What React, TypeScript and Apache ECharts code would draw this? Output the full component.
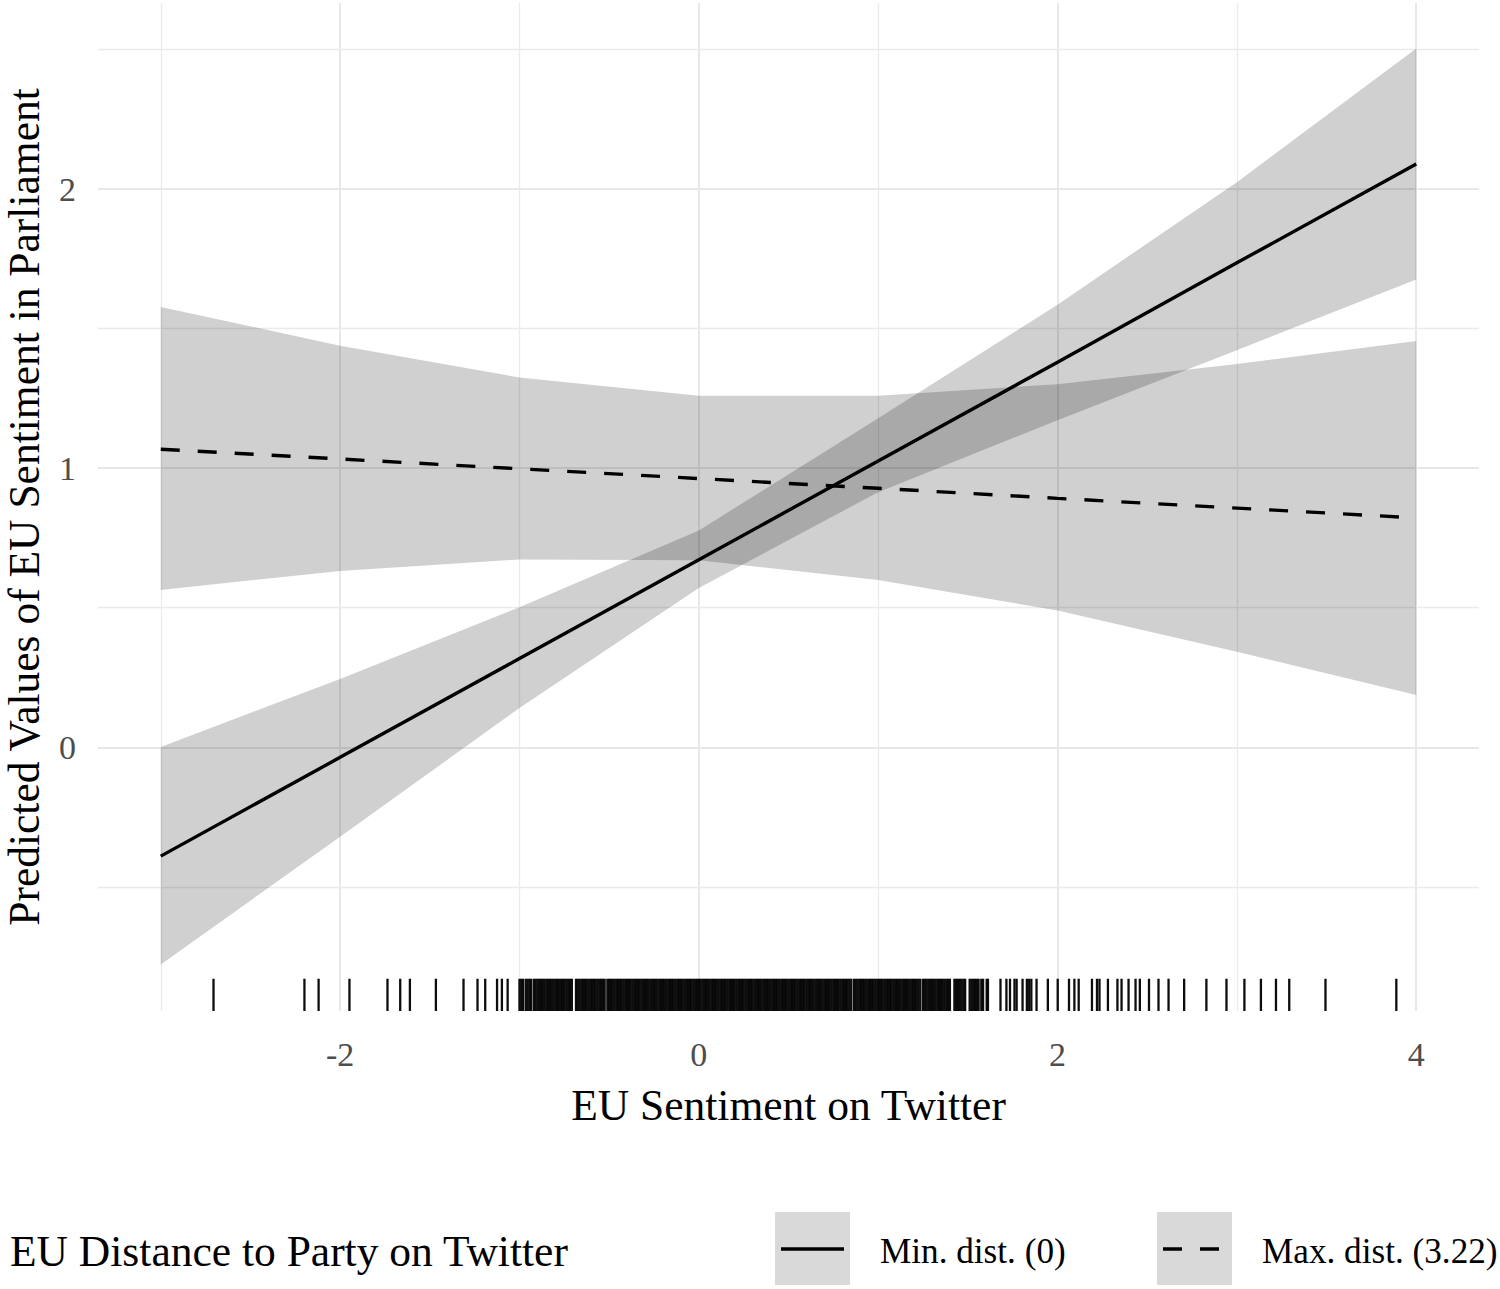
import React, { useEffect, useRef } from "react";
import * as echarts from "echarts";

// Predicted values evaluated at these x points
const X_POINTS = [-3, -2, -1, 0, 1, 2, 3, 4];
// Min. dist. (0)
const MIN_FIT = [-0.39, -0.036, 0.318, 0.672, 1.026, 1.38, 1.736, 2.09];
const MIN_LO = [-0.778, -0.321, 0.141, 0.571, 0.914, 1.172, 1.423, 1.676];
const MIN_HI = [0.001, 0.245, 0.502, 0.777, 1.179, 1.586, 2.025, 2.504];
// Max. dist. (3.22)
const MAX_FIT = [1.068, 1.033, 0.998, 0.963, 0.928, 0.892, 0.857, 0.822];
const MAX_LO = [0.564, 0.632, 0.673, 0.67, 0.599, 0.49, 0.342, 0.187];
const MAX_HI = [1.578, 1.439, 1.325, 1.26, 1.26, 1.301, 1.373, 1.456];

const X_TICKS = [-2, 0, 2, 4];
const X_MINOR = [-3, -1, 1, 3];
const Y_TICKS = [0, 1, 2];
const Y_MINOR = [-0.5, 0.5, 1.5, 2.5];

const LEGEND_TITLE = "EU Distance to Party on Twitter";
const LEGEND_LABELS = ["Min. dist. (0)", "Max. dist. (3.22)"];

// observed values of EU sentiment on Twitter (rug)
const RUG_X = [
  -2.706, -2.199, -2.12, -1.948, -1.736, -1.665, -1.611, -1.466, -1.312, -1.234,
  -1.191, -1.125, -1.098, -1.066,
  -1.0, -0.99, -0.98, -0.965, -0.955, -0.945, -0.935,
  -0.92, -0.91, -0.9, -0.89, -0.88, -0.87, -0.86, -0.85, -0.84, -0.83, -0.82,
  -0.81, -0.8, -0.79, -0.78,
  -0.768, -0.758, -0.748, -0.738, -0.728, -0.718, -0.708,
  -0.685, -0.675, -0.665, -0.655, -0.645, -0.635, -0.625, -0.615, -0.605, -0.595,
  -0.585, -0.575, -0.565, -0.555, -0.545, -0.535, -0.525,
  -0.51, -0.5, -0.49, -0.48, -0.47, -0.46, -0.45, -0.44, -0.43, -0.42,
  -0.41, -0.4, -0.39, -0.38, -0.37, -0.36, -0.35, -0.34, -0.33, -0.32,
  -0.31, -0.3, -0.29, -0.28, -0.27, -0.26, -0.25, -0.24, -0.23, -0.22,
  -0.21, -0.2, -0.19, -0.18, -0.17, -0.16, -0.15, -0.14, -0.13, -0.12,
  -0.11, -0.1, -0.09, -0.08, -0.07, -0.06, -0.05, -0.04, -0.03, -0.02,
  -0.01, 0.0, 0.01, 0.02, 0.03, 0.04, 0.05, 0.06, 0.07, 0.08,
  0.09, 0.1, 0.11, 0.12, 0.13, 0.14, 0.15, 0.16, 0.17, 0.18,
  0.19, 0.2, 0.21, 0.22, 0.23, 0.24, 0.25, 0.26, 0.27, 0.28,
  0.29, 0.3, 0.31, 0.32, 0.33, 0.34, 0.35, 0.36, 0.37, 0.38,
  0.39, 0.4, 0.41, 0.42, 0.43, 0.44, 0.45, 0.46, 0.47, 0.48,
  0.49, 0.5, 0.51, 0.52, 0.53, 0.54, 0.55, 0.56, 0.57, 0.58,
  0.59, 0.6, 0.61, 0.62, 0.63, 0.64, 0.65, 0.66, 0.67, 0.68,
  0.69, 0.7, 0.71, 0.72, 0.73, 0.74, 0.75, 0.76, 0.77, 0.78,
  0.79, 0.8, 0.81, 0.82, 0.83, 0.84, 0.85,
  0.865, 0.875, 0.885, 0.895, 0.905, 0.915, 0.925, 0.935, 0.945, 0.955,
  0.965, 0.975, 0.985, 0.995, 1.005, 1.015, 1.025, 1.035, 1.045, 1.055,
  1.065, 1.075, 1.085, 1.095, 1.105, 1.115, 1.125, 1.135, 1.145, 1.155,
  1.165, 1.175, 1.185, 1.195, 1.205, 1.215, 1.225, 1.235,
  1.25, 1.26, 1.27, 1.28, 1.29, 1.3, 1.31, 1.32, 1.33, 1.34, 1.35, 1.36, 1.37,
  1.38, 1.39, 1.4,
  1.425, 1.435, 1.445, 1.455, 1.465, 1.475, 1.485,
  1.51, 1.52, 1.53, 1.54, 1.55, 1.56,
  1.575, 1.585, 1.605, 1.612,
  1.682, 1.715, 1.735, 1.76, 1.772, 1.805, 1.829, 1.842, 1.854, 1.883,
  1.946, 2.001, 2.064, 2.094, 2.118, 2.192, 2.22, 2.234, 2.281, 2.334,
  2.357, 2.396, 2.435, 2.459, 2.51, 2.563, 2.619, 2.706, 2.83, 2.942,
  3.042, 3.134, 3.218, 3.292, 3.494, 3.889,
];

const X_MIN = -3.35;
const X_MAX = 4.35;
const Y_MIN = -0.945;
const Y_MAX = 2.667;

const FONT = "'Liberation Serif', 'DejaVu Serif', serif";
const BAND_FILL = "rgba(0,0,0,0.185)";

function bandSeries(name: string, lo: number[], hi: number[]) {
  return {
    type: "custom",
    name,
    z: 2,
    silent: true,
    data: X_POINTS.map((x, i) => [x, lo[i], hi[i]]),
    encode: { x: 0, y: [1, 2] },
    renderItem: (params: any, api: any) => {
      if (params.dataIndex !== 0) return null;
      const pts: number[][] = [];
      for (let i = 0; i < X_POINTS.length; i++) pts.push(api.coord([X_POINTS[i], hi[i]]));
      for (let i = X_POINTS.length - 1; i >= 0; i--) pts.push(api.coord([X_POINTS[i], lo[i]]));
      return { type: "polygon", shape: { points: pts }, style: { fill: BAND_FILL } };
    },
  };
}

export default function App() {
  const ref = useRef<HTMLDivElement>(null);

  useEffect(() => {
    document.body.style.margin = "0";
    if (!ref.current) return;
    const chart = echarts.init(ref.current, undefined, { renderer: "svg" });

    const gridLineData = [
      ...X_MINOR.map((v) => ({ xAxis: v, lineStyle: { width: 1.3, color: "#ebebeb", type: "solid" } })),
      ...X_TICKS.map((v) => ({ xAxis: v, lineStyle: { width: 2, color: "#e8e8e8", type: "solid" } })),
      ...Y_MINOR.map((v) => ({ yAxis: v, lineStyle: { width: 1.3, color: "#ebebeb", type: "solid" } })),
      ...Y_TICKS.map((v) => ({ yAxis: v, lineStyle: { width: 2, color: "#e8e8e8", type: "solid" } })),
    ];

    const option: any = {
      animation: false,
      textStyle: { fontFamily: FONT },
      grid: { left: 98, right: 21, top: 3, bottom: 278, outerBoundsMode: "none", containLabel: false },
      xAxis: {
        type: "value",
        min: X_MIN,
        max: X_MAX,
        axisLine: { show: false },
        axisTick: { show: false },
        splitLine: { show: false },
        axisLabel: {
          customValues: X_TICKS,
          fontFamily: FONT,
          fontSize: 34,
          color: "#4d4d4d",
          margin: 26,
        },
        name: "EU Sentiment on Twitter",
        nameLocation: "middle",
        nameGap: 72,
        nameTextStyle: { fontFamily: FONT, fontSize: 43.5, color: "#000" },
      },
      yAxis: {
        type: "value",
        min: Y_MIN,
        max: Y_MAX,
        axisLine: { show: false },
        axisTick: { show: false },
        splitLine: { show: false },
        axisLabel: {
          customValues: Y_TICKS,
          fontFamily: FONT,
          fontSize: 34,
          color: "#4d4d4d",
          margin: 22,
        },
        name: "Predicted Values of EU Sentiment in Parliament",
        nameLocation: "middle",
        nameGap: 52,
        nameTextStyle: { fontFamily: FONT, fontSize: 43.5, color: "#000" },
      },
      series: [
        {
          type: "line",
          name: "grid",
          silent: true,
          z: 0,
          data: [[X_MIN, Y_MIN]],
          showSymbol: false,
          lineStyle: { opacity: 0 },
          markLine: {
            z: 0,
            silent: true,
            animation: false,
            symbol: ["none", "none"],
            label: { show: false },
            data: gridLineData,
          },
        },
        bandSeries("Min band", MIN_LO, MIN_HI),
        bandSeries("Max band", MAX_LO, MAX_HI),
        {
          type: "line",
          name: LEGEND_LABELS[0],
          z: 3,
          silent: true,
          data: X_POINTS.map((x, i) => [x, MIN_FIT[i]]),
          showSymbol: false,
          lineStyle: { color: "#000", width: 3.4, type: "solid" },
        },
        {
          type: "line",
          name: LEGEND_LABELS[1],
          z: 3,
          silent: true,
          data: X_POINTS.map((x, i) => [x, MAX_FIT[i]]),
          showSymbol: false,
          lineStyle: { color: "#000", width: 3.4, type: [19, 18] },
        },
        {
          type: "custom",
          name: "rug",
          z: 3,
          silent: true,
          data: RUG_X.map((v) => [v, Y_MIN]),
          encode: { x: 0, y: 1 },
          renderItem: (params: any, api: any) => {
            const p0 = api.coord([api.value(0), Y_MIN]);
            const p1 = api.coord([api.value(0), Y_MIN + 0.032 * (Y_MAX - Y_MIN)]);
            return {
              type: "line",
              shape: { x1: p0[0], y1: p0[1], x2: p1[0], y2: p1[1] },
              style: { stroke: "#000", opacity: 0.95, lineWidth: 2.3 },
            };
          },
        },
      ],
      graphic: [
        {
          type: "text",
          left: 10,
          top: 1229,
          style: { text: LEGEND_TITLE, font: `43.5px ${FONT}`, fill: "#000" },
        },
        { type: "rect", shape: { x: 775, y: 1212, width: 75, height: 73 }, style: { fill: "#d9d9d9" } },
        {
          type: "line",
          shape: { x1: 781, y1: 1249, x2: 844, y2: 1249 },
          style: { stroke: "#000", lineWidth: 3.4 },
        },
        {
          type: "text",
          left: 880,
          top: 1234,
          style: { text: LEGEND_LABELS[0], font: `35.2px ${FONT}`, fill: "#000" },
        },
        { type: "rect", shape: { x: 1157, y: 1212, width: 75, height: 73 }, style: { fill: "#d9d9d9" } },
        {
          type: "line",
          shape: { x1: 1163, y1: 1249, x2: 1226, y2: 1249 },
          style: { stroke: "#000", lineWidth: 3.4, lineDash: [19, 18] },
        },
        {
          type: "text",
          left: 1262,
          top: 1234,
          style: { text: LEGEND_LABELS[1], font: `35.2px ${FONT}`, fill: "#000" },
        },
      ],
    };

    chart.setOption(option);
    return () => chart.dispose();
  }, []);

  return <div ref={ref} style={{ width: 1500, height: 1289 }} />;
}
